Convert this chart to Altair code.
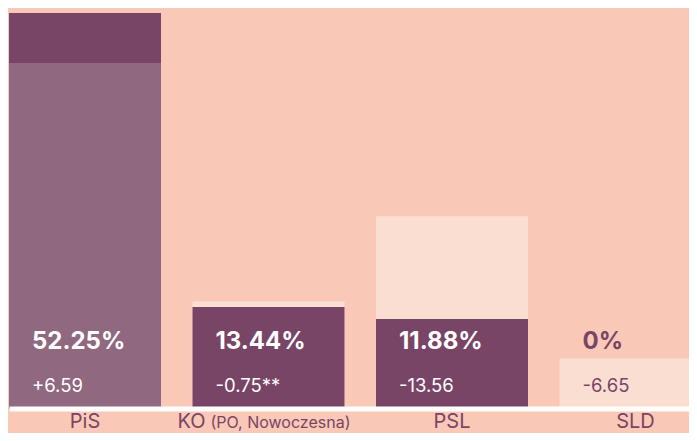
import altair as alt
import pandas as pd

parties = ["PiS", "KO", "PSL", "SLD"]
suffixes = ["", "(PO, Nowoczesna)", "", ""]
current = [52.25, 13.44, 11.88, 0.0]
previous = [45.66, 14.19, 25.44, 6.65]
delta_labels = ["+6.59", "-0.75**", "-13.56", "-6.65"]

df = pd.DataFrame({
    "party": parties,
    "suffix": suffixes,
    "current": current,
    "previous": previous,
    "delta": delta_labels,
})

BG = "#FAC8B6"
DARK = "#784566"
LIGHT = "#FBDED2"
MID = "#906880"
FONT = "Inter"

x = alt.X(
    "party:N",
    sort=parties,
    scale=alt.Scale(range=[1, 703.5], paddingInner=0.1717, paddingOuter=0),
    axis=alt.Axis(title=None, labels=False, ticks=False, domainColor="white",
                  domainWidth=5, offset=-0.5, zindex=1),
)
yscale = alt.Scale(domain=[0, 52.9], nice=False, zero=True)

base = alt.Chart(df)

prev_bar = base.mark_bar(color=LIGHT).encode(
    x=x, y=alt.Y("previous:Q", scale=yscale, axis=None)
)
cur_bar = base.mark_bar(color=DARK).encode(
    x=x, y=alt.Y("current:Q", scale=yscale, axis=None)
)
kept_bar = base.transform_filter("datum.current > datum.previous").mark_bar(color=MID).encode(
    x=x, y=alt.Y("previous:Q", scale=yscale, axis=None)
)

text_color = alt.condition("datum.current > 0", alt.value("white"), alt.value(DARK))

val_text = base.transform_calculate(vlabel="datum.current + '%'").mark_text(
    align="left", baseline="alphabetic", dx=-53, font=FONT, fontSize=24, fontWeight="bold"
).encode(x=x, y=alt.value(341), text="vlabel:N", color=text_color)

delta_text = base.mark_text(
    align="left", baseline="alphabetic", dx=-53, font=FONT, fontSize=18.5
).encode(x=x, y=alt.value(384), text="delta:N", color=text_color)

LABEL_Y = 420

name_plain = base.transform_filter("datum.suffix == ''").mark_text(
    align="center", baseline="alphabetic", font=FONT, fontSize=20, color=DARK
).encode(x=x, y=alt.value(LABEL_Y), text="party:N")

name_ko = base.transform_filter("datum.suffix != ''").mark_text(
    align="right", baseline="alphabetic", dx=-63, font=FONT, fontSize=20, color=DARK
).encode(x=x, y=alt.value(LABEL_Y), text="party:N")

name_suffix = base.transform_filter("datum.suffix != ''").mark_text(
    align="left", baseline="alphabetic", dx=-58, font=FONT, fontSize=16, color=DARK
).encode(x=x, y=alt.value(LABEL_Y), text="suffix:N")

chart = alt.layer(
    prev_bar, cur_bar, kept_bar, val_text, delta_text, name_plain, name_ko, name_suffix
).properties(
    width=681,
    height=401,
    autosize=alt.AutoSizeParams(type="none"),
    padding={"left": 0, "top": 0, "right": 0, "bottom": 24},
).configure(background=BG).configure_view(stroke=None)

chart.save("out.html", embed_options={"renderer": "svg", "actions": False})
